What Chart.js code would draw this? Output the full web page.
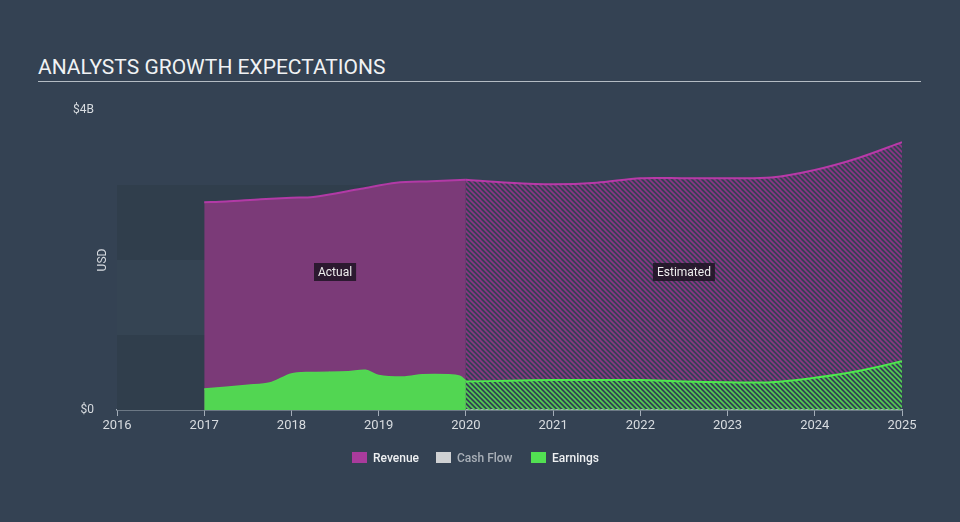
<!DOCTYPE html>
<html>
<head>
<meta charset="utf-8">
<script src="https://cdn.jsdelivr.net/npm/chart.js@4"></script>
<style>
  body { margin: 0; background: #344253; font-family: Roboto, sans-serif; }
  #wrap { position: relative; width: 960px; height: 522px; }
  #title { position: absolute; left: 38px; top: 55px; color: #f0f2f4; font-size: 21px; }
  #rule { position: absolute; left: 38px; top: 81px; width: 883px; height: 1px; background: #b4bcc4; }
  canvas { position: absolute; left: 0; top: 0; }
  #legend { position: absolute; top: 451px; left: 352px; font-size: 12px; font-weight: 500; }
  .item { position: absolute; top: 0; white-space: nowrap; }
  .sw { display: inline-block; width: 15px; height: 11px; vertical-align: -1px; margin-right: 6px; }
</style>
</head>
<body>
<div id="wrap">
  <div id="title">ANALYSTS GROWTH EXPECTATIONS</div>
  <div id="rule"></div>
  <canvas id="chart" width="960" height="522"></canvas>
  <div id="legend">
    <span class="item" style="left:0;color:#eef0f2"><span class="sw" style="background:#a93b9c"></span>Revenue</span>
    <span class="item" style="left:84px;color:#a9b0b8"><span class="sw" style="background:#cfd1d3"></span>Cash Flow</span>
    <span class="item" style="left:179px;color:#eef0f2"><span class="sw" style="background:#52e052"></span>Earnings</span>
  </div>
</div>
<script>
// years and values (USD billions)
var actualYears = [2017, 2017.25, 2017.65, 2018, 2018.25, 2018.8, 2019.2, 2019.6, 2020];
var revenueActual = [2.77, 2.78, 2.81, 2.83, 2.84, 2.95, 3.03, 3.05, 3.07];

var earnActualYears = [2017, 2017.5, 2017.75, 2018, 2018.2, 2018.65, 2018.85, 2019, 2019.3, 2019.5, 2019.8, 2019.93, 2020];
var earningsActual = [0.28, 0.33, 0.36, 0.48, 0.50, 0.51, 0.53, 0.46, 0.44, 0.47, 0.47, 0.45, 0.39];

var estYears = [2020, 2020.5, 2021, 2021.5, 2022, 2022.5, 2023, 2023.5, 2024, 2024.5, 2025];
var revenueEst = [3.07, 3.03, 3.01, 3.03, 3.09, 3.09, 3.09, 3.10, 3.20, 3.36, 3.57];
var earningsEst = [0.38, 0.39, 0.40, 0.40, 0.40, 0.38, 0.37, 0.37, 0.43, 0.52, 0.65];

var yTicks = [0, 4];
var tickYears = [2016, 2017, 2018, 2019, 2020, 2021, 2022, 2023, 2024, 2025];

function pts(xs, ys) {
  return xs.map(function (x, i) { return { x: x, y: ys[i] }; });
}

// diagonal hatch pattern
function hatch(color) {
  var c = document.createElement('canvas');
  c.width = 5; c.height = 5;
  var g = c.getContext('2d');
  g.strokeStyle = color;
  g.lineWidth = 1.6;
  g.beginPath();
  g.moveTo(-1, -1); g.lineTo(6, 6);
  g.moveTo(-1, 4); g.lineTo(1, 6);
  g.moveTo(4, -1); g.lineTo(6, 1);
  g.stroke();
  return g.createPattern(c, 'repeat');
}

var ctx = document.getElementById('chart').getContext('2d');

// background bands + labels
var extras = {
  id: 'extras',
  beforeDatasetsDraw: function (chart) {
    var x = chart.scales.x, y = chart.scales.y, c = chart.ctx;
    var bands = ['#303e4c', '#354453', '#303e4c'];
    for (var i = 0; i < 3; i++) {
      c.fillStyle = bands[i];
      var top = y.getPixelForValue(i + 1), bot = y.getPixelForValue(i);
      c.fillRect(x.getPixelForValue(2016), top, x.getPixelForValue(2020) - x.getPixelForValue(2016), bot - top);
    }
  },
  afterDatasetsDraw: function (chart) {
    var x = chart.scales.x, y = chart.scales.y, c = chart.ctx;
    c.save();
    c.font = '12px Roboto';
    c.textAlign = 'center';
    c.textBaseline = 'middle';
    [['Actual', 2018.5], ['Estimated', 2022.5]].forEach(function (l) {
      var px = x.getPixelForValue(l[1]), py = y.getPixelForValue(1.84);
      var w = c.measureText(l[0]).width + 8;
      c.fillStyle = 'rgba(30,20,35,0.85)';
      c.fillRect(px - w / 2, py - 9, w, 18);
      c.fillStyle = '#eeeeee';
      c.fillText(l[0], px, py + 1);
    });
    c.translate(103, y.getPixelForValue(2));
    c.rotate(-Math.PI / 2);
    c.fillStyle = '#d6dadf';
    c.fillText('USD', 0, 0);
    c.restore();
  }
};

new Chart(ctx, {
  type: 'line',
  data: {
    datasets: [
      {
        label: 'Earnings actual',
        data: pts(earnActualYears, earningsActual),
        borderColor: '#52d852',
        backgroundColor: '#52d652',
        borderWidth: 1.5,
        fill: 'origin',
        order: 0
      },
      {
        label: 'Earnings estimated',
        data: pts(estYears, earningsEst),
        borderColor: '#4ee84e',
        backgroundColor: hatch('#52d052'),
        borderWidth: 2,
        fill: 'origin',
        order: 0
      },
      {
        label: 'Revenue actual',
        data: pts(actualYears, revenueActual),
        borderColor: '#b23aa6',
        backgroundColor: '#7b3a78',
        borderWidth: 2,
        fill: 'origin',
        order: 1
      },
      {
        label: 'Revenue estimated',
        data: pts(estYears, revenueEst),
        borderColor: '#b83aa8',
        backgroundColor: hatch('#8c3586'),
        borderWidth: 2,
        fill: 1,
        order: 1
      }
    ]
  },
  plugins: [extras],
  options: {
    responsive: false,
    animation: false,
    layout: { padding: { top: 110, right: 58, left: 0, bottom: 0 } },
    elements: { point: { radius: 0 }, line: { tension: 0.3 } },
    plugins: { legend: { display: false }, tooltip: { enabled: false } },
    scales: {
      x: {
        type: 'linear',
        min: 2016,
        max: 2025,
        afterBuildTicks: function (s) { s.ticks = tickYears.map(function (v) { return { value: v }; }); },
        afterFit: function (s) { s.height = 112; },
        border: { color: '#a3adb8', width: 1.5 },
        grid: { drawOnChartArea: false, color: '#a3adb8', tickLength: 6 },
        ticks: { color: '#d8dce0', font: { family: 'Roboto', size: 13 }, padding: 2, maxRotation: 0,
          callback: function (v) { return String(v); } }
      },
      y: {
        min: 0,
        max: 4,
        afterBuildTicks: function (s) { s.ticks = yTicks.map(function (v) { return { value: v }; }); },
        afterFit: function (s) { s.width = 117; },
        border: { display: false },
        grid: { display: false },
        ticks: { color: '#d8dce0', font: { family: 'Roboto', size: 12 }, padding: 15,
          callback: function (v) { return '$' + v + (v ? 'B' : ''); } }
      }
    }
  }
});
</script>
</body>
</html>
